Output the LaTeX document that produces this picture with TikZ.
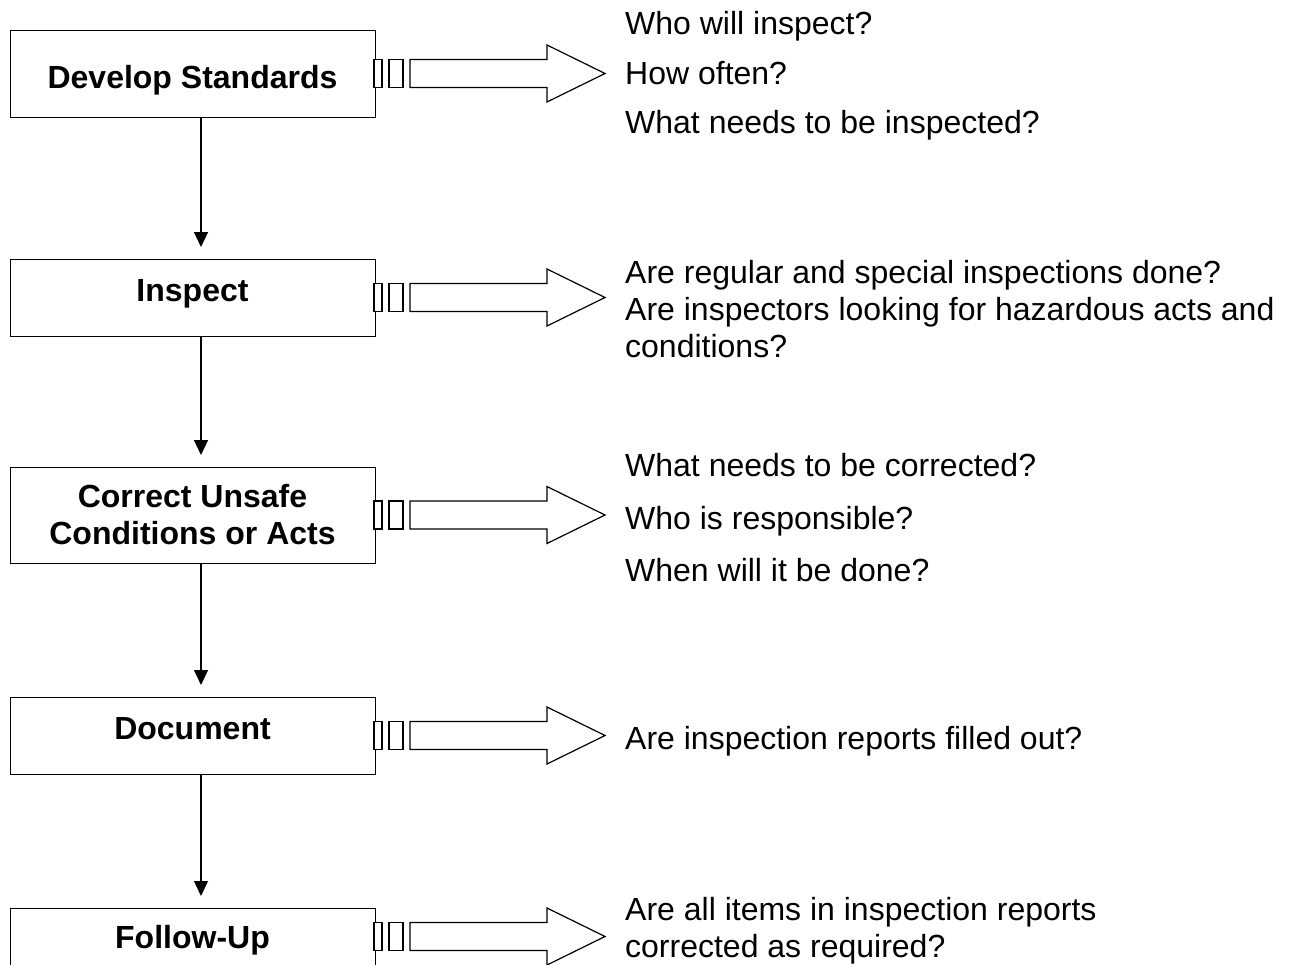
\documentclass[tikz,border=0pt]{standalone}
\usepackage{fontspec}
\setmainfont{Liberation Sans}
\usetikzlibrary{arrows.meta}
\begin{document}
\begin{tikzpicture}[x=1pt,y=-1pt,
  box/.style={draw,line width=1.3pt,minimum width=365pt,inner sep=0pt,anchor=north west},
  lbl/.style={font=\fontsize{32}{37}\selectfont\bfseries,anchor=base,inner sep=0pt},
  qtext/.style={font=\fontsize{32}{37}\selectfont,anchor=base west,inner sep=0pt},
  flow/.style={line width=1.2pt,-{Triangle[width=14pt,length=15pt]},shorten >=12pt},
  blk/.style={draw,line width=1.2pt,fill=white},
  stripearrow/.pic={
    \draw[blk] (-1,-14) rectangle (7,14);
    \draw[blk] (14,-14) rectangle (28,14);
    \draw[blk] (35,-14) -- (172,-14) -- (172,-28.5) -- (230,0) -- (172,28.5) -- (172,14) -- (35,14) -- cycle;
  }]
\useasboundingbox (0,0) rectangle (1293,964);
\clip (0,0) rectangle (1293,964);
\fill[white] (0,0) rectangle (1293,964);
\coordinate (cx) at (201,0);
% boxes
\node[box,minimum height=87pt] (b1) at (10,30) {};
\node[box,minimum height=77pt] (b2) at (10,259) {};
\node[box,minimum height=96pt] (b3) at (10,467) {};
\node[box,minimum height=77pt] (b4) at (10,697) {};
\node[box,minimum height=100pt] (b5) at (10,908) {};
% labels
\node[lbl] (t1) at (192.5,88) {Develop Standards};
\node[lbl] (t2) at (192.5,301) {Inspect};
\node[lbl] (t3a) at (192.5,507) {Correct Unsafe};
\node[lbl] (t3b) at (192.5,544) {Conditions or Acts};
\node[lbl] (t4) at (192.5,739) {Document};
\node[lbl] (t5) at (192.5,948) {Follow-Up};
% connectors
\draw[flow] (b1.south -| cx) -- (b2.north -| cx);
\draw[flow] (b2.south -| cx) -- (b3.north -| cx);
\draw[flow] (b3.south -| cx) -- (b4.north -| cx);
\draw[flow] (b4.south -| cx) -- (b5.north -| cx);
% block arrows
\pic at (375,73.5) {stripearrow};
\pic at (375,297.5) {stripearrow};
\pic at (375,515) {stripearrow};
\pic at (375,735.5) {stripearrow};
\pic at (375,936.5) {stripearrow};
% questions
\node[qtext] (q1a) at (625,34) {Who will inspect?};
\node[qtext] (q1b) at (625,84) {How often?};
\node[qtext] (q1c) at (625,133) {What needs to be inspected?};
\node[qtext] (q2a) at (625,283) {Are regular and special inspections done?};
\node[qtext] (q2b) at (625,320) {Are inspectors looking for hazardous acts and};
\node[qtext] (q2c) at (625,357) {conditions?};
\node[qtext] (q3a) at (625,476) {What needs to be corrected?};
\node[qtext] (q3b) at (625,529) {Who is responsible?};
\node[qtext] (q3c) at (625,581) {When will it be done?};
\node[qtext] (q4) at (625,749) {Are inspection reports filled out?};
\node[qtext] (q5a) at (625,920) {Are all items in inspection reports};
\node[qtext] (q5b) at (625,957) {corrected as required?};
\end{tikzpicture}
\end{document}
